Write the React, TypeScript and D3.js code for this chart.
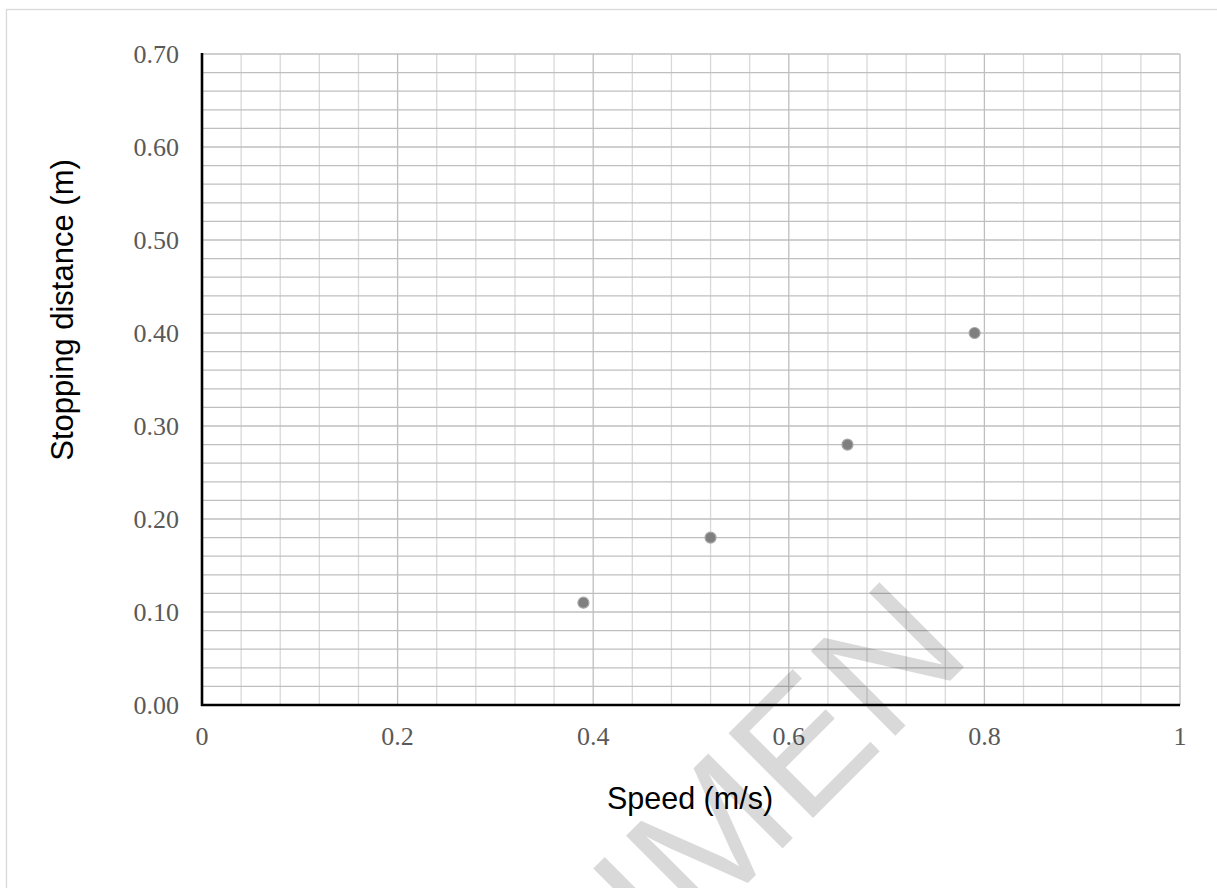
import React from "react";
import * as d3 from "d3";

const speeds = [0.39, 0.52, 0.66, 0.79];
const distances = [0.11, 0.18, 0.28, 0.4];
const xTickValues = [0, 0.2, 0.4, 0.6, 0.8, 1];
const xTickLabels = ["0", "0.2", "0.4", "0.6", "0.8", "1"];
const yTickValues = [0, 0.1, 0.2, 0.3, 0.4, 0.5, 0.6, 0.7];
const yTickLabels = ["0.00", "0.10", "0.20", "0.30", "0.40", "0.50", "0.60", "0.70"];
const xTitle = "Speed (m/s)";
const yTitle = "Stopping distance (m)";
const watermark = "SPECIMEN";

const W = 1217;
const H = 888;
const plot = { left: 202, right: 1180, top: 54, bottom: 705 };

export default function App() {
  const x = d3.scaleLinear().domain([0, 1]).range([plot.left, plot.right]);
  const y = d3.scaleLinear().domain([0, 0.7]).range([plot.bottom, plot.top]);

  const vMinor = d3.range(0, 25).map((i) => i * 0.04).filter((v) => Math.abs(v / 0.2 - Math.round(v / 0.2)) > 1e-6);
  const vMajor = d3.range(1, 6).map((i) => i * 0.2);
  const hLines = d3.range(1, 36).map((i) => i * 0.02);

  const serif = "'Liberation Serif', 'Times New Roman', serif";
  const sans = "'Liberation Sans', Arial, sans-serif";

  return (
    <svg
      width={W}
      height={H}
      style={{ position: "absolute", left: 0, top: 0, background: "#fff" }}
    >
      <rect x={0} y={0} width={W} height={H} fill="#fff" />
      <rect x={6.5} y={9.5} width={W + 20} height={H + 20} fill="none" stroke="#d9d9d9" strokeWidth={1.3} />

      {vMinor.map((v) => (
        <line key={"vm" + v} x1={x(v)} x2={x(v)} y1={plot.top} y2={plot.bottom} stroke="#d9d9d9" strokeWidth={1.3} />
      ))}
      {hLines.map((v) => (
        <line key={"h" + v} x1={plot.left} x2={plot.right} y1={y(v)} y2={y(v)} stroke="#bfbfbf" strokeWidth={1.3} />
      ))}
      {vMajor.map((v) => (
        <line key={"vM" + v} x1={x(v)} x2={x(v)} y1={plot.top} y2={plot.bottom} stroke="#bfbfbf" strokeWidth={1.3} />
      ))}

      <line x1={plot.left} x2={plot.left} y1={plot.top - 1} y2={plot.bottom + 1} stroke="#000" strokeWidth={2.6} />
      <line x1={plot.left - 1} x2={plot.right} y1={plot.bottom} y2={plot.bottom} stroke="#000" strokeWidth={2.6} />

      {yTickValues.map((v, i) => (
        <text key={"yt" + v} x={179} y={y(v)} dy="0.34em" textAnchor="end" fontFamily={serif} fontSize={26} fill="#595959">
          {yTickLabels[i]}
        </text>
      ))}
      {xTickValues.map((v, i) => (
        <text key={"xt" + v} x={x(v)} y={745} textAnchor="middle" fontFamily={serif} fontSize={26} fill="#595959">
          {xTickLabels[i]}
        </text>
      ))}

      {speeds.map((s, i) => (
        <circle key={"p" + i} cx={x(s)} cy={y(distances[i])} r={5.5} fill="#7f7f7f" stroke="#a6a6a6" strokeWidth={1.2} />
      ))}

      <text x={690} y={809} textAnchor="middle" fontFamily={sans} fontSize={30.5} fill="#000">
        {xTitle}
      </text>
      <text
        transform={`translate(73, 310) rotate(-90)`}
        textAnchor="middle"
        fontFamily={sans}
        fontSize={31}
        fill="#000"
      >
        {yTitle}
      </text>

      <text
        transform="translate(974, 657) rotate(-45)"
        textAnchor="end"
        fontFamily={sans}
        fontSize={174}
        fill="#000"
        fillOpacity={0.15}
      >
        {watermark}
      </text>
    </svg>
  );
}
